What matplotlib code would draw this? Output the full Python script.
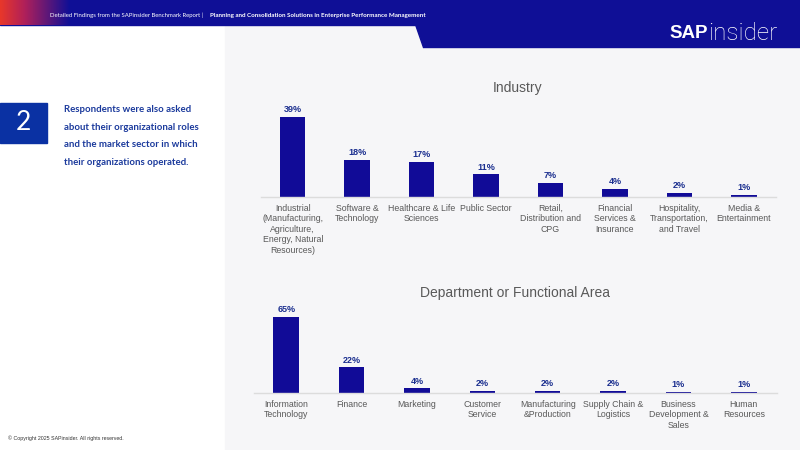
import matplotlib
matplotlib.use("Agg")
import matplotlib.pyplot as plt
from matplotlib.patches import Rectangle, Polygon
from matplotlib.colors import LinearSegmentedColormap
import numpy as np

plt.rcParams['font.family'] = ['Liberation Sans', 'DejaVu Sans']

# data
industry = ["Industrial\n(Manufacturing,\nAgriculture,\nEnergy, Natural\nResources)",
            "Software &\nTechnology", "Healthcare & Life\nSciences", "Public Sector",
            "Retail,\nDistribution and\nCPG", "Financial\nServices &\nInsurance",
            "Hospitality,\nTransportation,\nand Travel", "Media &\nEntertainment"]
industry_pct = [39, 18, 17, 11, 7, 4, 2, 1]

dept = ["Information\nTechnology", "Finance", "Marketing", "Customer\nService",
        "Manufacturing\n&Production", "Supply Chain &\nLogistics",
        "Business\nDevelopment &\nSales", "Human\nResources"]
dept_pct = [65, 22, 4, 2, 2, 2, 1, 1]

BAR = "#110b97"
NAVY = "#0f0f96"
W, H = 800, 450

fig = plt.figure(figsize=(8, 4.5), dpi=100)
bg = fig.add_axes([0, 0, 1, 1])
bg.axis('off')

# background panels
bg.add_patch(Rectangle((225, 25), 575, 425, color="#f6f6f8", zorder=0))
bg.add_patch(Rectangle((0, 0), 800, 25, color=NAVY, zorder=1))
bg.add_patch(Polygon([(415, 24), (800, 24), (800, 47), (423, 47)], color=NAVY, zorder=1))
# red fade on the left of the header
grad = np.linspace(0, 1, 100).reshape(1, -1)
cm = LinearSegmentedColormap.from_list("hdr", [(0, "#e8372a"), (0.35, "#b0205a"), (1, NAVY)])
bg.imshow(grad, extent=(0, 70, 25, 0), cmap=cm, aspect='auto', zorder=2)
bg.set_xlim(0, W)
bg.set_ylim(H, 0)

bg.text(50, 15, "Detailed Findings from the SAPinsider Benchmark Report | ", color="white",
        fontsize=4.3, va='center', ha='left', family=['Lato', 'DejaVu Sans'], zorder=3)
bg.text(426, 15, "Planning and Consolidation Solutions in Enterprise Performance Management",
        color="white", fontsize=4.5, va='center', ha='right', fontweight='bold',
        family=['Lato', 'DejaVu Sans'], zorder=3)
bg.text(669, 33, "SAP", color="white", fontsize=13.5, fontweight='bold', va='center',
        ha='left', family=['Liberation Sans'], zorder=3)
bg.text(708, 33, "insider", color="white", fontsize=17.5, va='center', ha='left',
        family=['Roboto'], fontweight='light', zorder=3)

# number box and intro text
bg.add_patch(Rectangle((0, 103), 47, 40, color="#0a31a3", zorder=2))
bg.text(23, 123, "2", color="white", fontsize=19, ha='center', va='center',
        family=['Lato', 'DejaVu Sans'], zorder=3)
intro = ["Respondents were also asked", "about their organizational roles",
         "and the market sector in which", "their organizations operated."]
for i, line in enumerate(intro):
    bg.text(64, 109.5 + i * 17.6, line, color="#1b3a9c", fontsize=6.9, fontweight='bold',
            va='center', ha='left', family=['Lato', 'DejaVu Sans'])

bg.text(8, 438, "\u00a9 Copyright 2025 SAPinsider. All rights reserved.", color="#333333",
        fontsize=3.8, va='center', ha='left')

# titles
bg.text(518, 88, "Industry", color="#595959", fontsize=10, ha='center', va='center')
bg.text(515, 293, "Department or Functional Area", color="#595959", fontsize=10,
        ha='center', va='center')


def bar_panel(left, right, base, top, cats, vals, ymax, width):
    ax = fig.add_axes([left / W, 1 - base / H, (right - left) / W, (base - top) / H])
    ax.set_facecolor('none')
    x = np.arange(len(cats))
    ax.bar(x, vals, width=width, color=BAR, zorder=2)
    for xi, v in zip(x, vals):
        ax.text(xi, v + ymax * 0.03, f"{v}%", ha='center', va='bottom', fontsize=6.5,
                fontweight='bold', color="#1b2f8f")
    ax.set_xlim(-0.5, len(cats) - 0.5)
    ax.set_ylim(0, ymax)
    for s in ['top', 'right', 'left']:
        ax.spines[s].set_visible(False)
    ax.spines['bottom'].set_color("#dcdcdc")
    ax.spines['bottom'].set_linewidth(1)
    ax.set_yticks([])
    ax.set_xticks(x)
    ax.set_xticklabels(cats, fontsize=6.3, color="#595959", linespacing=1.2)
    ax.tick_params(axis='x', length=0, pad=5)
    return ax


bar_panel(260.5, 776, 197, 100, industry, industry_pct, 97 / 2.05, 0.395)
bar_panel(253.5, 776.5, 393, 305, dept, dept_pct, 88 / 1.169, 0.39)

fig.savefig("out.png", dpi=100)
